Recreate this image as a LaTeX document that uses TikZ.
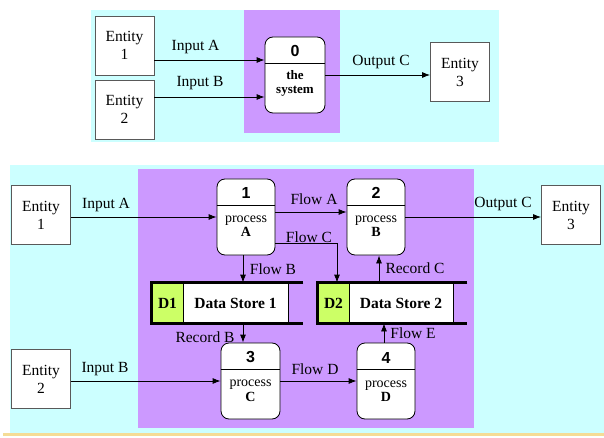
\documentclass[tikz,border=0pt]{standalone}
\usepackage{fontspec}
\setmainfont{Liberation Serif}
\newfontfamily\numfont{Liberation Sans}
\usetikzlibrary{arrows.meta}
\definecolor{skyback}{HTML}{CCFFFF}
\definecolor{sysback}{HTML}{CC99FF}
\definecolor{storeid}{HTML}{CCFF66}
\definecolor{slideline}{HTML}{F5DC96}

\begin{document}
\begin{tikzpicture}[x=1pt, y=-1pt, line width=0.8pt, >={Latex[length=8pt,width=6pt]},
  font=\fontsize{15.5}{18}\selectfont,
  entity/.style={draw=black!65, fill=white, minimum width=59pt, minimum height=59pt, align=center, inner sep=0pt},
  proc/.style={draw, fill=white, rounded corners=8pt, minimum width=58pt, minimum height=76pt, inner sep=0pt},
  pnum/.style={font=\numfont\bfseries\fontsize{16}{18}\selectfont},
  ptext/.style={align=center, font=\fontsize{14}{14.5}\selectfont},
  idcell/.style={draw, fill=storeid, minimum width=31pt, minimum height=40pt, inner sep=0pt, font=\bfseries\fontsize{15.5}{18}\selectfont},
  namecell/.style={draw, fill=white, minimum height=40pt, inner sep=0pt, font=\bfseries\fontsize{15.5}{18}\selectfont},
  store/.style={line width=2.5pt},
  flow/.style={->}]
\useasboundingbox (0,0) rectangle (604,438);
%backgrounds
\fill[skyback] (91,10) rectangle (499,142);
\fill[sysback] (244,10) rectangle (340,133);
\fill[skyback] (10,165) rectangle (604,433);
\fill[sysback] (138,169) rectangle (474,428);
\fill[slideline] (3,433) rectangle (604,435.5);

%context diagram
\node[entity] (t1) at (124.5,45.5) {Entity\\1};
\node[entity] (t2) at (124.5,109.5) {Entity\\2};
\node[entity] (t3) at (460,72) {Entity\\3};
\node[proc, minimum width=60pt] (p0) at (295,75) {};
\draw ([yshift=-27pt]p0.north west) -- ([yshift=-27pt]p0.north east);
\node[pnum] (n0) at (295,50.5) {0};
\node[ptext, font=\bfseries\fontsize{13}{14}\selectfont] (s0) at (295,83) {the\\system};

\draw[flow] ([yshift=-14.5pt]t1.east) -- ([yshift=15pt]p0.west);
\draw[flow] ([yshift=12.5pt]t2.east) -- ([yshift=-22pt]p0.west);
\draw[flow] (p0.east) -- (p0.east -| t3.west);
\node (la0) at (195.5,47) {Input A};
\node (lb0) at (200,83) {Input B};
\node (lc0) at (381,62) {Output C};

%level 1 diagram
\node[entity] (b1) at (41,215) {Entity\\1};
\node[entity] (b2) at (41,379) {Entity\\2};
\node[entity] (b3) at (571,215) {Entity\\3};
\node[proc] (p1) at (246,217) {};
\node[proc] (p2) at (376,217) {};
\node[proc, minimum width=59pt] (p3) at (250.5,381) {};
\node[proc] (p4) at (386,381) {};
\foreach \p in {p1,p2,p3,p4}
  \draw ([yshift=-27pt]\p.north west) -- ([yshift=-27pt]\p.north east);
\node[pnum] (n1) at (246,192.5) {1};
\node[pnum] (n2) at (376,192.5) {2};
\node[pnum] (n3) at (250.5,357.5) {3};
\node[pnum] (n4) at (386,357.5) {4};
\node[ptext] (s1) at (246,226) {process\\\textbf{A}};
\node[ptext] (s2) at (376,226) {process\\\textbf{B}};
\node[ptext] (s3) at (250.5,391) {process\\\textbf{C}};
\node[ptext] (s4) at (386,391) {process\\\textbf{D}};

%data stores
\node[idcell] (d1id) at (167.5,303) {D1};
\node[namecell, minimum width=105pt] (d1) at (235.5,303) {Data Store 1};
\draw[store] ([xshift=15pt]d1.north east) -- (d1id.north west) -- (d1id.south west) -- ([xshift=15pt]d1.south east);
\node[idcell] (d2id) at (333.5,303) {D2};
\node[namecell, minimum width=104pt] (d2) at (401,303) {Data Store 2};
\draw[store] ([xshift=14pt]d2.north east) -- (d2id.north west) -- (d2id.south west) -- ([xshift=14pt]d2.south east);

%flows
\coordinate (fb) at ([xshift=-3pt]p1.south);
\coordinate (rc) at ([xshift=3pt]p2.south);
\coordinate (fe) at ([xshift=-2pt]p4.north);
\draw[flow] (b1.east |- p1.west) -- (p1.west);
\draw[flow] ([yshift=5pt]p1.east) -- ([yshift=5pt]p2.west);
\draw[flow] ([yshift=-26pt]p1.east) -| ([xshift=3.5pt]d2id.north);
\draw[flow] (fb) -- (fb |- d1.north);
\draw[flow] (p2.east) -- (p2.east -| b3.west);
\draw[flow] (rc |- d2.north) -- (rc);
\draw[flow] (fb |- d1.south) -- (fb |- p3.north);
\draw[flow] (fe) -- (fe |- d2.south);
\draw[flow] (p3.east) -- (p4.west);
\draw[flow] (b2.east |- p3.west) -- (p3.west);

\node (la1) at (106,205) {Input A};
\node (lfa) at (314,199) {Flow A};
\node (lfc) at (309,237) {Flow C};
\node (lfb) at (273,269) {Flow B};
\node (lrc) at (415,268) {Record C};
\node (lc1) at (503,204) {Output C};
\node (lrb) at (205,337) {Record B};
\node (lfe) at (413,333) {Flow E};
\node (lfd) at (315,369) {Flow D};
\node (lb1) at (105,369) {Input B};
\end{tikzpicture}
\end{document}
